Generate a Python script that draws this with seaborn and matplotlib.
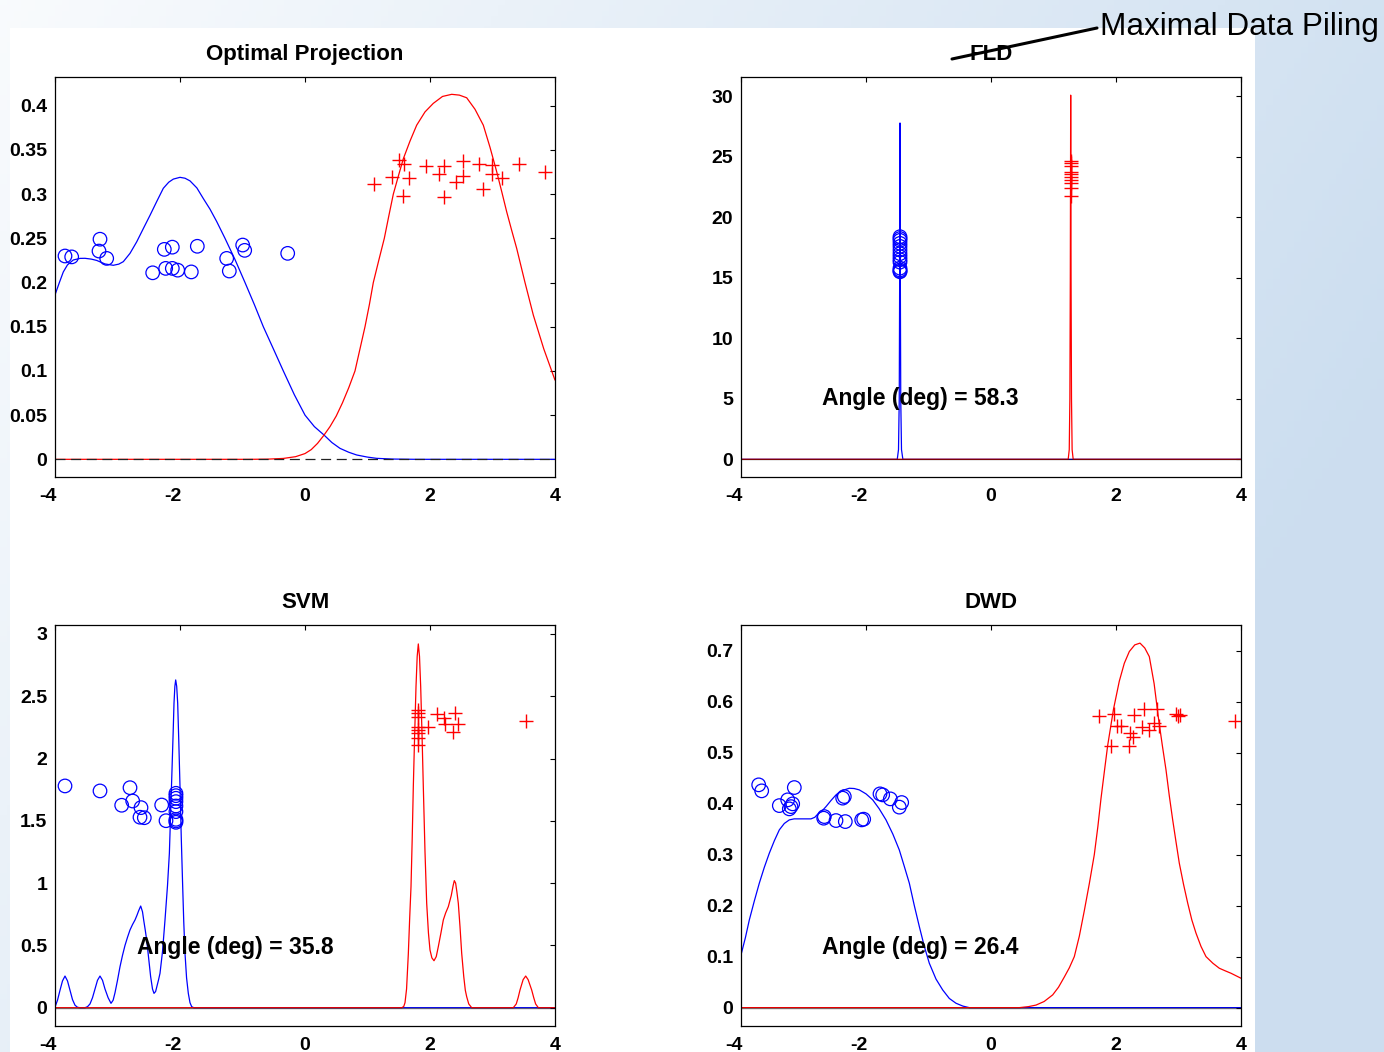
import numpy as np
import matplotlib
matplotlib.use("Agg")
import matplotlib.pyplot as plt
from matplotlib.lines import Line2D
from matplotlib.patches import Rectangle
from matplotlib.transforms import ScaledTranslation
import seaborn as sns

# ------------------------------------------------------------------ data
x_ticks = [-4, -2, 0, 2, 4]
x_tick_labels = ["-4", "-2", "0", "2", "4"]

titles = ["Optimal Projection", "FLD", "SVM", "DWD"]
angle_texts = [None, "Angle (deg) = 58.3", "Angle (deg) = 35.8", "Angle (deg) = 26.4"]

# --- Optimal Projection
opt_blue_curve_x = [-4.0, -3.93, -3.867, -3.8, -3.707, -3.6, -3.52, -3.42, -3.333, -3.2, -3.067,
                    -2.98, -2.907, -2.8, -2.693, -2.58, -2.48, -2.37, -2.267, -2.18, -2.107, -2.0,
                    -1.92, -1.84, -1.73, -1.627, -1.52, -1.413, -1.28, -1.12, -0.96, -0.81,
                    -0.667, -0.5, -0.347, -0.17, 0.0, 0.15, 0.304, 0.43, 0.56, 0.7, 0.827,
                    1.0, 1.147, 1.4, 1.787, 4.0]
opt_blue_curve_y = [0.186, 0.200, 0.212, 0.220, 0.2255, 0.2273, 0.2274, 0.2265, 0.225, 0.221, 0.2195,
                    0.2208, 0.2236, 0.233, 0.246, 0.262, 0.276, 0.292, 0.3066, 0.3135, 0.317, 0.319,
                    0.318, 0.315, 0.307, 0.295, 0.283, 0.269, 0.25, 0.226, 0.2, 0.175,
                    0.15, 0.124, 0.1, 0.073, 0.05, 0.037, 0.0275, 0.019, 0.0124, 0.008, 0.0049,
                    0.0025, 0.0011, 0.0003, 0.0, 0.0]
opt_red_curve_x = [-4.0, -0.9, -0.6, -0.347, -0.15, 0.0, 0.1, 0.2, 0.3, 0.4, 0.5, 0.6, 0.7, 0.8,
                   0.88, 0.96, 1.03, 1.093, 1.18, 1.269, 1.34, 1.413, 1.5, 1.573, 1.68, 1.787,
                   1.92, 2.053, 2.2, 2.347, 2.47, 2.587, 2.72, 2.853, 2.96, 3.067, 3.147,
                   3.227, 3.307, 3.387, 3.52, 3.653, 3.82, 4.0]
opt_red_curve_y = [0.0, 0.0, 0.0002, 0.001, 0.003, 0.0065, 0.011, 0.018, 0.027, 0.037, 0.049, 0.064,
                   0.081, 0.10, 0.125, 0.15, 0.175, 0.20, 0.225, 0.25, 0.275, 0.30, 0.322, 0.34,
                   0.36, 0.378, 0.393, 0.4027, 0.4105, 0.4129, 0.412, 0.409, 0.396, 0.378,
                   0.353, 0.3254, 0.303, 0.28, 0.259, 0.2386, 0.2, 0.1632, 0.125, 0.0896]
opt_circle_x = [-3.84, -3.733, -3.28, -3.296, -3.173, -2.437, -2.251, -2.123, -2.229, -2.123,
                -2.037, -1.819, -1.723, -1.253, -1.211, -0.997, -0.965, -0.277]
opt_circle_y = [0.230, 0.229, 0.249, 0.2356, 0.2273, 0.211, 0.2375, 0.240, 0.216, 0.216,
                0.214, 0.212, 0.241, 0.2273, 0.213, 0.2424, 0.2364, 0.233]
opt_cross_x = [1.104, 1.387, 1.509, 1.584, 1.573, 1.669, 1.936, 2.149, 2.224, 2.229,
               2.416, 2.533, 2.533, 2.784, 2.843, 2.987, 2.997, 3.157, 3.429, 3.84]
opt_cross_y = [0.312, 0.319, 0.3386, 0.334, 0.298, 0.3186, 0.332, 0.3227, 0.332, 0.2967,
               0.314, 0.3374, 0.3205, 0.3337, 0.3058, 0.333, 0.3224, 0.3179, 0.3337, 0.3254]
opt_yticks = [0, 0.05, 0.1, 0.15, 0.2, 0.25, 0.3, 0.35, 0.4]
opt_ytick_labels = ["0", "0.05", "0.1", "0.15", "0.2", "0.25", "0.3", "0.35", "0.4"]

# --- FLD
fld_blue_curve_x = [-4.0, -1.50, -1.48, -1.468, -1.462, -1.456, -1.450, -1.444, -1.432, -1.41, 4.0]
fld_blue_curve_y = [0.0, 0.0, 0.8, 5.0, 14.0, 27.8, 14.0, 5.0, 0.8, 0.0, 0.0]
fld_red_curve_x = [-4.0, 1.235, 1.252, 1.262, 1.269, 1.275, 1.281, 1.288, 1.298, 1.315, 4.0]
fld_red_curve_y = [0.0, 0.0, 0.8, 5.0, 15.0, 30.1, 15.0, 5.0, 0.8, 0.0, 0.0]
fld_circle_x = [-1.456] * 14
fld_circle_y = [18.4, 18.25, 18.1, 17.85, 17.6, 17.3, 17.0, 16.75, 16.5, 16.3, 15.8, 15.65, 15.55, 15.5]
fld_cross_x = [1.275] * 10
fld_cross_y = [24.68, 24.46, 24.24, 23.77, 23.58, 23.36, 23.08, 22.81, 22.4, 21.76]
fld_yticks = [0, 5, 10, 15, 20, 25, 30]
fld_ytick_labels = ["0", "5", "10", "15", "20", "25", "30"]

# --- SVM
svm_blue_curve_x = [-4.0, -3.96, -3.92, -3.88, -3.84, -3.80, -3.76, -3.72, -3.68, -3.64, -3.6,
                    -3.52, -3.48, -3.44, -3.40, -3.36, -3.32, -3.28, -3.24, -3.2, -3.15, -3.104,
                    -3.07, -3.04, -3.0, -2.96, -2.92, -2.88, -2.84, -2.8, -2.76, -2.72, -2.69,
                    -2.66, -2.629, -2.60, -2.58, -2.555, -2.533, -2.50, -2.47, -2.44, -2.416,
                    -2.39, -2.37, -2.345, -2.32, -2.28, -2.24, -2.2, -2.17, -2.15, -2.128, -2.11,
                    -2.096, -2.082, -2.069, -2.053, -2.037, -2.02, -2.0, -1.98, -1.957, -1.94,
                    -1.92, -1.895, -1.867, -1.84, -1.813, -1.78, 4.0]
svm_blue_curve_y = [0.005, 0.06, 0.14, 0.215, 0.254, 0.215, 0.14, 0.065, 0.02, 0.003, 0.0,
                    0.0, 0.008, 0.03, 0.08, 0.15, 0.22, 0.254, 0.22, 0.15, 0.08, 0.035,
                    0.06, 0.12, 0.22, 0.329, 0.42, 0.50, 0.565, 0.624, 0.667, 0.704, 0.74,
                    0.78, 0.816, 0.77, 0.70, 0.62, 0.543, 0.39, 0.25, 0.15, 0.115,
                    0.13, 0.17, 0.22, 0.276, 0.45, 0.704, 0.98, 1.24, 1.56, 1.908, 2.2,
                    2.444, 2.58, 2.631, 2.58, 2.444, 2.15, 1.774, 1.37, 0.971, 0.69,
                    0.437, 0.24, 0.115, 0.04, 0.008, 0.0, 0.0]
svm_red_curve_x = [-4.0, 1.55, 1.58, 1.6, 1.625, 1.653, 1.675, 1.696, 1.715, 1.733, 1.755, 1.776,
                   1.795, 1.813, 1.832, 1.851, 1.872, 1.893, 1.92, 1.947, 1.975, 2.0, 2.03, 2.064,
                   2.1, 2.133, 2.175, 2.213, 2.25, 2.293, 2.34, 2.37, 2.389, 2.41, 2.43, 2.453,
                   2.48, 2.507, 2.54, 2.565, 2.587, 2.62, 2.667, 3.333, 3.38, 3.41, 3.44, 3.49,
                   3.531, 3.57, 3.627, 3.66, 3.69, 3.733, 4.0]
svm_red_curve_y = [0.0, 0.0, 0.01, 0.04, 0.15, 0.43, 0.72, 0.97, 1.35, 1.774, 2.2, 2.577,
                   2.82, 2.92, 2.82, 2.577, 2.2, 1.774, 1.25, 0.838, 0.6, 0.463, 0.40, 0.377,
                   0.41, 0.49, 0.6, 0.704, 0.76, 0.811, 0.9, 0.98, 1.02, 1.0, 0.93, 0.838,
                   0.65, 0.437, 0.25, 0.14, 0.088, 0.03, 0.0, 0.0, 0.03, 0.08, 0.142, 0.225,
                   0.254, 0.225, 0.142, 0.08, 0.03, 0.0, 0.0]
svm_circle_x = [-3.84, -3.28, -2.8, -2.933, -2.757, -2.624, -2.64, -2.571, -2.293, -2.224,
                -2.065, -2.065, -2.065, -2.065, -2.065, -2.065, -2.065, -2.065, -2.065]
svm_circle_y = [1.78, 1.74, 1.766, 1.625, 1.659, 1.606, 1.529, 1.525, 1.627, 1.501,
                1.721, 1.702, 1.681, 1.654, 1.619, 1.574, 1.512, 1.499, 1.488]
svm_cross_x = [1.813, 1.813, 1.813, 1.813, 1.813, 1.813, 1.813, 1.813,
               1.973, 2.107, 2.229, 2.24, 2.4, 2.453, 2.363, 3.531]
svm_cross_y = [2.39, 2.364, 2.336, 2.256, 2.229, 2.203, 2.163, 2.109,
               2.256, 2.358, 2.323, 2.278, 2.364, 2.278, 2.216, 2.302]
svm_yticks = [0, 0.5, 1, 1.5, 2, 2.5, 3]
svm_ytick_labels = ["0", "0.5", "1", "1.5", "2", "2.5", "3"]

# --- DWD
dwd_blue_curve_x = [-4.0, -3.93, -3.867, -3.787, -3.707, -3.627, -3.547, -3.467, -3.387, -3.307,
                    -3.227, -3.15, -3.067, -2.97, -2.88, -2.82, -2.773, -2.70, -2.64, -2.56,
                    -2.48, -2.37, -2.267, -2.19, -2.107, -2.0, -1.893, -1.79, -1.68, -1.57,
                    -1.467, -1.39, -1.307, -1.227, -1.147, -1.067, -0.987, -0.88, -0.773,
                    -0.667, -0.56, -0.45, -0.347, 4.0]
dwd_blue_curve_y = [0.1033, 0.137, 0.1718, 0.209, 0.244, 0.275, 0.3027, 0.327, 0.3484, 0.361,
                    0.368, 0.370, 0.37, 0.37, 0.37, 0.373, 0.3792, 0.386, 0.394, 0.406,
                    0.417, 0.426, 0.430, 0.4295, 0.4268, 0.419, 0.4073, 0.39, 0.368, 0.34,
                    0.309, 0.278, 0.244, 0.2, 0.159, 0.12, 0.087, 0.056, 0.0347,
                    0.018, 0.0086, 0.003, 0.0, 0.0]
dwd_red_curve_x = [-4.0, 0.453, 0.6, 0.72, 0.85, 0.987, 1.08, 1.173, 1.253, 1.333, 1.413, 1.493,
                   1.573, 1.653, 1.71, 1.76, 1.813, 1.867, 1.96, 2.053, 2.133, 2.213, 2.30, 2.384,
                   2.46, 2.533, 2.61, 2.683, 2.74, 2.8, 2.853, 2.907, 2.96, 3.013, 3.08, 3.147,
                   3.213, 3.28, 3.36, 3.44, 3.55, 3.653, 3.75, 3.84, 3.92, 4.0]
dwd_red_curve_y = [0.0, 0.0, 0.002, 0.005, 0.012, 0.025, 0.04, 0.06, 0.078, 0.1, 0.14, 0.19,
                   0.243, 0.3, 0.355, 0.41, 0.462, 0.514, 0.585, 0.64, 0.675, 0.698, 0.711, 0.7145,
                   0.705, 0.688, 0.635, 0.564, 0.515, 0.466, 0.415, 0.368, 0.325, 0.283, 0.242, 0.205,
                   0.172, 0.146, 0.12, 0.1, 0.087, 0.0772, 0.072, 0.0674, 0.0625, 0.0576]
dwd_circle_x = [-3.717, -3.669, -3.147, -3.387, -3.253, -3.2, -3.173, -3.227, -2.667, -2.677,
                -2.48, -2.331, -2.347, -2.373, -2.069, -2.037, -1.776, -1.733, -1.611, -1.467,
                -1.429]
dwd_circle_y = [0.4367, 0.4249, 0.4314, 0.396, 0.4073, 0.394, 0.3994, 0.3896, 0.3745, 0.3713,
                0.3667, 0.3647, 0.4137, 0.4106, 0.368, 0.3694, 0.419, 0.417, 0.4092, 0.393,
                0.402]
dwd_cross_x = [1.733, 1.963, 2.283, 2.453, 2.656, 2.016, 2.08, 2.224, 2.267, 2.416,
               2.533, 2.613, 2.693, 1.92, 2.203, 2.96, 2.987, 3.024, 3.904]
dwd_cross_y = [0.572, 0.5759, 0.574, 0.585, 0.585, 0.5524, 0.5524, 0.538, 0.530, 0.551,
               0.5445, 0.5576, 0.5524, 0.5137, 0.5137, 0.5759, 0.5726, 0.574, 0.5622]
dwd_yticks = [0, 0.1, 0.2, 0.3, 0.4, 0.5, 0.6, 0.7]
dwd_ytick_labels = ["0", "0.1", "0.2", "0.3", "0.4", "0.5", "0.6", "0.7"]

# ------------------------------------------------------------------ style
sns.set_style("white")
plt.rcParams["font.family"] = ["Liberation Sans", "DejaVu Sans"]
plt.rcParams["axes.unicode_minus"] = False

W, H = 1384, 1052
fig = plt.figure(figsize=(W / 100, H / 100), dpi=100)

# slide background: light blue gradient with white content area
bg = fig.add_axes([0, 0, 1, 1], zorder=-10)
bg.set_xlim(0, 1)
bg.set_ylim(0, 1)
bg.axis("off")
gx, gy = np.meshgrid(np.linspace(0, 1, 200), np.linspace(0, 1, 200))
t = np.clip(0.75 * gx + 0.35 * gy + 0.12, 0, 1)  # gy=0 at top (origin upper)
c0 = np.array([1.0, 1.0, 1.0])
c1 = np.array([0.80, 0.87, 0.94])
grad = c0[None, None, :] * (1 - t[..., None]) + c1[None, None, :] * t[..., None]
bg.imshow(grad, extent=[0, 1, 0, 1], aspect="auto", origin="upper")
bg.add_patch(Rectangle((10 / W, 0), (1255 - 10) / W, (H - 28) / H,
                       facecolor="white", edgecolor="none"))

BLUE = "#0000ff"
RED = "#ff0000"
TICK_FS = 14
TITLE_FS = 16
ANGLE_FS = 16.5


def panel(rect, bx, by, rx, ry, cx, cy, px, py, ylim, yticks, ylabels,
          title, dashed, angle, angle_xy):
    ax = fig.add_axes(rect)
    ax.set_facecolor("white")
    sns.lineplot(x=bx, y=by, ax=ax, color=BLUE, lw=0.9, estimator=None, sort=False)
    sns.lineplot(x=rx, y=ry, ax=ax, color=RED, lw=0.9, estimator=None, sort=False)
    sns.scatterplot(x=cx, y=cy, ax=ax, marker="o", s=95, linewidth=0.9)
    coll = ax.collections[-1]
    coll.set_facecolor("none")
    coll.set_edgecolor(BLUE)
    sns.scatterplot(x=px, y=py, ax=ax, marker="+", s=95, linewidth=1.0, color=RED)
    coll = ax.collections[-1]
    coll.set_edgecolor(RED)
    coll.set_facecolor(RED)
    if dashed:
        ax.axhline(0, color="#222222", lw=0.9, ls=(0, (8, 4.5)))
    else:
        ax.axhline(0, color="black", lw=1.0, alpha=0.5)
    ax.set_xlim(-4, 4)
    ax.set_ylim(*ylim)
    ax.set_xticks(x_ticks)
    ax.set_xticklabels(x_tick_labels, fontsize=TICK_FS, fontweight="bold")
    ax.set_yticks(yticks)
    ax.set_yticklabels(ylabels, fontsize=TICK_FS, fontweight="bold")
    ax.tick_params(direction="in", top=True, right=True, length=3.6, width=0.8,
                   color="black", labelcolor="black")
    ax.tick_params(axis="y", pad=5.5)
    ax.tick_params(axis="x", pad=8)
    # MATLAB-style: negative labels sit slightly left of their tick
    shift = ScaledTranslation(-5.0 / 72, 0, fig.dpi_scale_trans)
    for lbl in ax.get_xticklabels():
        if lbl.get_text().startswith("-"):
            lbl.set_transform(lbl.get_transform() + shift)
    for s in ax.spines.values():
        s.set_visible(True)
        s.set_color("black")
        s.set_linewidth(0.9)
    ax.set_xlabel("")
    ax.set_ylabel("")
    ax.set_title(title, fontsize=TITLE_FS, fontweight="bold", pad=12, color="black")
    if angle:
        ax.text(angle_xy[0], angle_xy[1], angle, fontsize=ANGLE_FS, fontweight="bold",
                ha="center", va="center", color="black")
    return ax


def frac(l, t, r, b):
    return [l / W, (H - b) / H, (r - l) / W, (b - t) / H]


panel(frac(55, 77, 555, 477), opt_blue_curve_x, opt_blue_curve_y, opt_red_curve_x, opt_red_curve_y,
      opt_circle_x, opt_circle_y, opt_cross_x, opt_cross_y, (-0.02, 0.4325),
      opt_yticks, opt_ytick_labels, titles[0], True, angle_texts[0], None)
panel(frac(741, 77, 1241, 477), fld_blue_curve_x, fld_blue_curve_y, fld_red_curve_x, fld_red_curve_y,
      fld_circle_x, fld_circle_y, fld_cross_x, fld_cross_y, (-1.46, 31.6),
      fld_yticks, fld_ytick_labels, titles[1], False, angle_texts[1], (-1.136, 5.0))
panel(frac(55, 625, 555, 1026), svm_blue_curve_x, svm_blue_curve_y, svm_red_curve_x, svm_red_curve_y,
      svm_circle_x, svm_circle_y, svm_cross_x, svm_cross_y, (-0.147, 3.072),
      svm_yticks, svm_ytick_labels, titles[2], False, angle_texts[2], (-1.12, 0.48))
panel(frac(741, 625, 1241, 1026), dwd_blue_curve_x, dwd_blue_curve_y, dwd_red_curve_x, dwd_red_curve_y,
      dwd_circle_x, dwd_circle_y, dwd_cross_x, dwd_cross_y, (-0.036, 0.750),
      dwd_yticks, dwd_ytick_labels, titles[3], False, angle_texts[3], (-1.136, 0.117))

# strike-through of "FLD" and the replacement label
fig.add_artist(Line2D([952 / W, 1097 / W], [(H - 59) / H, (H - 28) / H],
                      transform=fig.transFigure, color="black", lw=2.2))
fig.text(1100 / W, (H - 27) / H, "Maximal Data Piling", fontsize=22.7, ha="left", va="center",
         color="black", family=["Liberation Sans", "DejaVu Sans"])

fig.savefig("out.png", dpi=100)
